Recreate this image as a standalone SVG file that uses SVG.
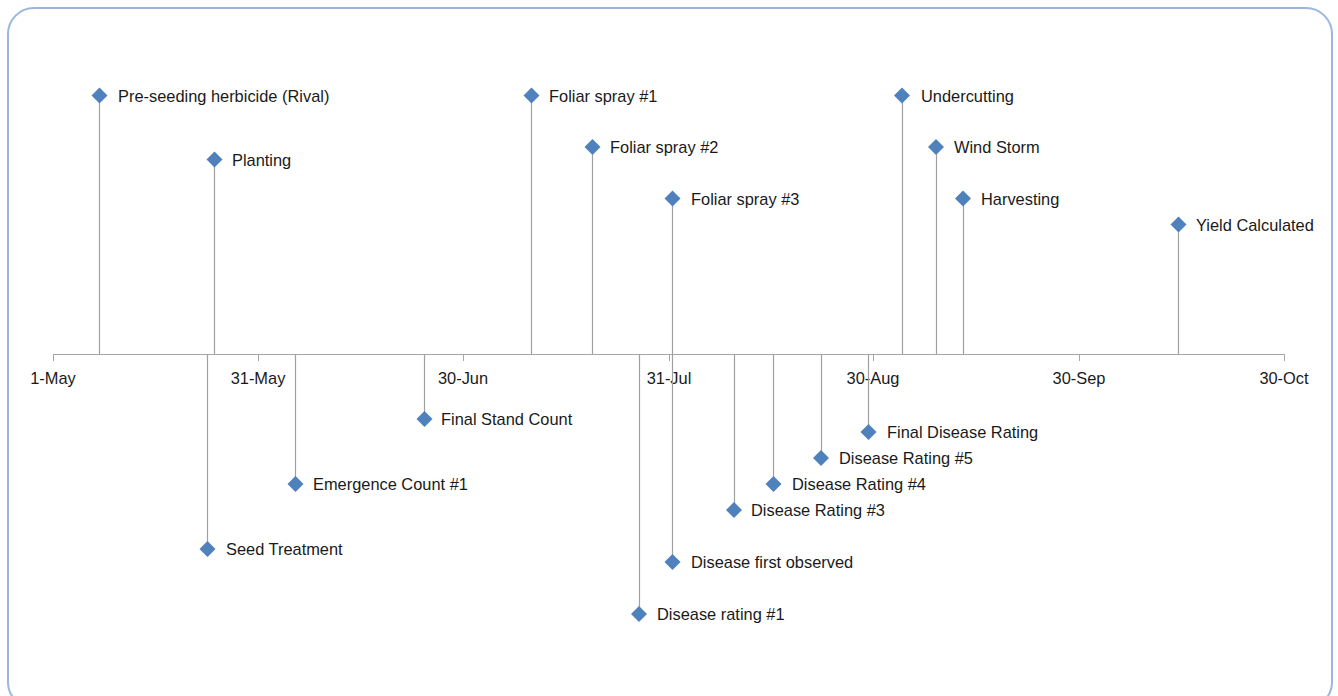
<svg xmlns="http://www.w3.org/2000/svg" width="1338" height="696" viewBox="0 0 1338 696">
<style>
.frame{fill:#ffffff;stroke:#9bb7e0;stroke-width:2}
.axis{stroke:#a6a6a6;stroke-width:1;fill:none}
.stem{stroke:#a0a0a0;stroke-width:1.2;fill:none}
.dia{fill:#4f81bd}
.lbl{font-family:"Liberation Sans",Arial,sans-serif;font-size:16.4px;fill:#1a1a1a}
.tick{font-family:"Liberation Sans",Arial,sans-serif;font-size:16.4px;fill:#1a1a1a;text-anchor:middle}
</style>
<defs>
<path id="d" d="M0,-8 L8,0 L0,8 L-8,0 Z"/>
</defs>
<rect class="frame" x="8" y="8" width="1324" height="700" rx="26" ry="26"/>
<g id="axis">
<path class="axis" d="M53,354.5 H1284 M53.5,354 v7 M258.5,354 v7 M463.5,354 v7 M669.5,354 v7 M873.5,354 v7 M1079.5,354 v7 M1284.5,354 v7"/>
<text class="tick" x="53" y="384">1-May</text>
<text class="tick" x="258" y="384">31-May</text>
<text class="tick" x="463" y="384">30-Jun</text>
<text class="tick" x="669" y="384">31-Jul</text>
<text class="tick" x="873" y="384">30-Aug</text>
<text class="tick" x="1079" y="384">30-Sep</text>
<text class="tick" x="1284" y="384">30-Oct</text>
</g>
<g id="connectors">
<path class="stem" d="M99.5,95 V354"/>
<path class="stem" d="M214.5,159 V354"/>
<path class="stem" d="M207.5,354 V549"/>
<path class="stem" d="M295.5,354 V484"/>
<path class="stem" d="M424.5,354 V419"/>
<path class="stem" d="M531.5,95 V354"/>
<path class="stem" d="M592.5,147 V354"/>
<path class="stem" d="M672.5,198 V354"/>
<path class="stem" d="M639.5,354 V614"/>
<path class="stem" d="M672.5,354 V562"/>
<path class="stem" d="M734.5,354 V510"/>
<path class="stem" d="M773.5,354 V484"/>
<path class="stem" d="M821.5,354 V458"/>
<path class="stem" d="M868.5,354 V432"/>
<path class="stem" d="M902.5,95 V354"/>
<path class="stem" d="M936.5,147 V354"/>
<path class="stem" d="M963.5,198 V354"/>
<path class="stem" d="M1178.5,224 V354"/>
</g>
<g id="pre-seeding"><use href="#d" class="dia" x="99.5" y="95.5"/><text class="lbl" x="118" y="101.5">Pre-seeding herbicide (Rival)</text></g>
<g id="planting"><use href="#d" class="dia" x="214.5" y="159.5"/><text class="lbl" x="232" y="165.5">Planting</text></g>
<g id="seed-treatment"><use href="#d" class="dia" x="207.5" y="549"/><text class="lbl" x="226" y="555">Seed Treatment</text></g>
<g id="emergence"><use href="#d" class="dia" x="295.5" y="484"/><text class="lbl" x="313" y="490">Emergence Count #1</text></g>
<g id="final-stand"><use href="#d" class="dia" x="424.5" y="419"/><text class="lbl" x="441" y="425">Final Stand Count</text></g>
<g id="foliar1"><use href="#d" class="dia" x="531.5" y="95.5"/><text class="lbl" x="549" y="101.5">Foliar spray #1</text></g>
<g id="foliar2"><use href="#d" class="dia" x="592.5" y="147"/><text class="lbl" x="610" y="153">Foliar spray #2</text></g>
<g id="foliar3"><use href="#d" class="dia" x="672.5" y="198.5"/><text class="lbl" x="691" y="204.5">Foliar spray #3</text></g>
<g id="disease-rating1"><use href="#d" class="dia" x="639" y="614"/><text class="lbl" x="657" y="620">Disease rating #1</text></g>
<g id="disease-first"><use href="#d" class="dia" x="672.5" y="562"/><text class="lbl" x="691" y="568">Disease first observed</text></g>
<g id="disease-rating3"><use href="#d" class="dia" x="734" y="510"/><text class="lbl" x="751" y="516">Disease Rating #3</text></g>
<g id="disease-rating4"><use href="#d" class="dia" x="773.5" y="484"/><text class="lbl" x="792" y="490">Disease Rating #4</text></g>
<g id="disease-rating5"><use href="#d" class="dia" x="821" y="458"/><text class="lbl" x="839" y="464">Disease Rating #5</text></g>
<g id="final-disease"><use href="#d" class="dia" x="868.5" y="432"/><text class="lbl" x="887" y="438">Final Disease Rating</text></g>
<g id="undercutting"><use href="#d" class="dia" x="902" y="95.5"/><text class="lbl" x="921" y="101.5">Undercutting</text></g>
<g id="wind-storm"><use href="#d" class="dia" x="936" y="147"/><text class="lbl" x="954" y="153">Wind Storm</text></g>
<g id="harvesting"><use href="#d" class="dia" x="963" y="198.5"/><text class="lbl" x="981" y="204.5">Harvesting</text></g>
<g id="yield"><use href="#d" class="dia" x="1178.5" y="224.5"/><text class="lbl" x="1196" y="230.5">Yield Calculated</text></g>
</svg>
